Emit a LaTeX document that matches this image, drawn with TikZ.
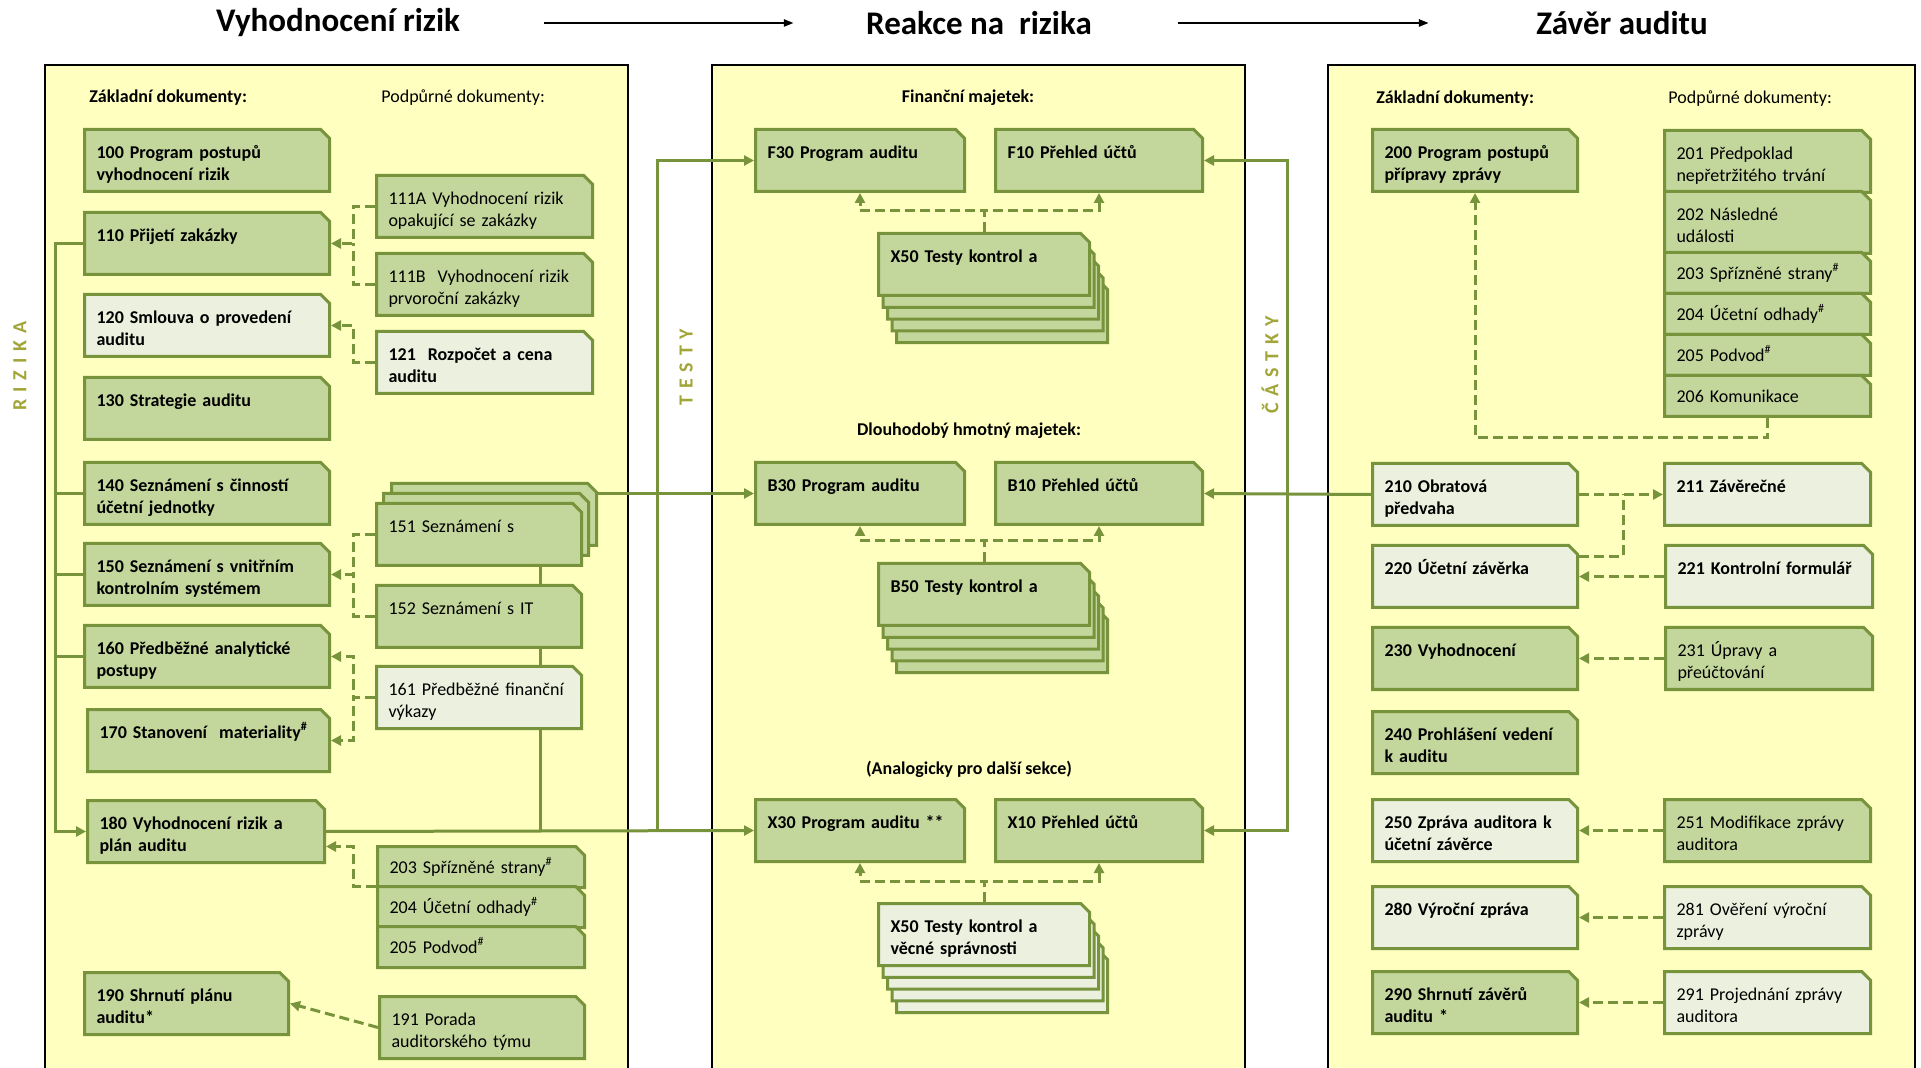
\documentclass[tikz,border=0pt]{standalone}
\usepackage{fontspec}
\setmainfont{Carlito}
\usetikzlibrary{shapes.misc,arrows.meta}

\definecolor{panelfill}{HTML}{FFFFBF}
\definecolor{darkfill}{HTML}{C3D69B}
\definecolor{lightfill}{HTML}{EBF1DE}
\definecolor{boxline}{HTML}{77933C}
\definecolor{sidetext}{HTML}{A2A538}

\tikzset{
    doc/.style={chamfered rectangle, chamfered rectangle corners=north east,
        chamfered rectangle xsep=2.2pt, chamfered rectangle ysep=2.2pt,
        draw=boxline, line width=1.5pt, fill=darkfill, anchor=north west,
        align=left, inner xsep=3.8pt, inner ysep=0pt,
        text height=12.1pt, text depth=14.5pt, font=\fontsize{9}{11}\selectfont},
    pale/.style={fill=lightfill},
    heavy/.style={font=\fontsize{9}{11}\selectfont\bfseries},
    slim/.style={text height=11.1pt, text depth=5pt},
    flow/.style={draw=boxline, line width=1.5pt, >={Triangle[length=5pt,width=5pt]}},
    dashflow/.style={flow, dash pattern=on 5pt off 2.5pt},
    panel/.style={fill=panelfill, draw=black, line width=0.6pt},
    pagetitle/.style={font=\fontsize{16.5}{19}\selectfont\bfseries, inner sep=0pt},
    titlearrow/.style={-{Triangle[length=5pt,width=3.5pt]}, line width=1.2pt},
    colhead/.style={font=\fontsize{9}{11}\selectfont, inner sep=0pt},
    sidelabel/.style={rotate=90, text=sidetext, inner sep=0pt,
        font=\fontsize{10}{12}\selectfont\bfseries,
        execute at begin node={\spaceskip=3.4pt\relax}}
}

\begin{document}
\begin{tikzpicture}[x=0.5pt,y=-0.5pt]
        \useasboundingbox (0,0) rectangle (1921,1068);

        \node[pagetitle] (tvyh) at (338,23) {Vyhodnocení rizik};
        \node[pagetitle] (treak) at (979,23) {Reakce na~ rizika};
        \node[pagetitle] (tzav) at (1622,23) {Závěr auditu};
        \draw[titlearrow, shorten <=42pt, shorten >=36pt] (tvyh) -- (treak);
        \draw[titlearrow, shorten <=43pt, shorten >=53.5pt] (treak) -- (tzav);

        \draw[panel] (45,65) rectangle (628,1075);
        \draw[panel] (712,65) rectangle (1245,1075);
        \draw[panel] (1328,65) rectangle (1915,1075);

        \node[sidelabel] (rizika) at (20,366) {R I Z I K A};
        \node[sidelabel] (testy) at (686,367) {T E S T Y};
        \node[sidelabel] (castky) at (1270,365) {Č Á S T K Y};

        % Vyhodnoceni rizik
        \node[colhead, font=\fontsize{9}{11}\selectfont\bfseries, anchor=west] (zakl1) at (89,98) {Základní dokumenty:};
        \node[colhead, anchor=west] (podp1) at (381,98) {Podpůrné dokumenty:};

        \node[doc,heavy,text width=110.5pt] (b100) at (83,128) {100 Program postupů\\vyhodnocení rizik};
        \node[doc,heavy,text width=110.5pt] (b110) at (83,211) {110 Přijetí zakázky};
        \node[doc,heavy,pale,text width=110.5pt] (b120) at (83,293) {120 Smlouva o provedení\\auditu};
        \node[doc,heavy,text width=110.5pt] (b130) at (83,376) {130 Strategie auditu};
        \node[doc,heavy,text width=110.5pt] (b140) at (83,461) {140 Seznámení s činností\\účetní jednotky};
        \node[doc,heavy,text width=110.5pt] (b150) at (83,542) {150 Seznámení s vnitřním\\kontrolním systémem};
        \node[doc,heavy,text width=110.5pt] (b160) at (83,624) {160 Předběžné analytické\\postupy};
        \node[doc,heavy,text width=109pt] (b170) at (86,708) {170 Stanovení~ materiality\textsuperscript{\#}};
        \node[doc,heavy,text width=106.5pt] (b180) at (86,799) {180 Vyhodnocení rizik a\\plán auditu};
        \node[doc,heavy,text width=90pt] (b190) at (83,971) {190 Shrnutí plánu\\auditu*};

        \node[doc,text width=96pt] (b111a) at (375,174) {111A Vyhodnocení rizik\\opakující se zakázky};
        \node[doc,text width=96pt] (b111b) at (375,252) {111B~ Vyhodnocení rizik\\prvoroční zakázky};
        \node[doc,heavy,pale,text width=96pt] (b121) at (375,330) {121~ Rozpočet a cena\\auditu};
        \node[doc,text width=90.5pt] (b151c) at (390,482) {};
        \node[doc,text width=90.5pt] (b151b) at (382,492) {};
        \node[doc,text width=90.5pt] (b151) at (375,502) {151 Seznámení s};
        \node[doc,text width=90.5pt] (b152) at (375,584) {152 Seznámení s IT};
        \node[doc,pale,text width=90.5pt] (b161) at (375,665) {161 Předběžné finanční\\výkazy};
        \node[doc,slim,text width=91.5pt] (b203a) at (376,845) {203 Spřízněné strany\textsuperscript{\#}};
        \node[doc,slim,text width=91.5pt] (b204a) at (376,885) {204 Účetní odhady\textsuperscript{\#}};
        \node[doc,slim,text width=91.5pt] (b205a) at (376,925) {205 Podvod\textsuperscript{\#}};
        \node[doc,text width=90.5pt] (b191) at (378,995) {191 Porada\\auditorského týmu};

        \coordinate (d1) at (353,0);
        \draw[flow,->] (b110.west) -- ++(-28,0) |- (b180.west);
        \foreach \n in {b140,b150,b160}
            \draw[flow] (\n.west) -- ++(-28,0);
        \draw[dashflow,->] (b111a.west) -| (b110.east -| d1) -- (b110.east);
        \draw[dashflow] (b111b.west) -| (b110.east -| d1);
        \draw[dashflow,->] (b121.west) -| (b120.east -| d1) -- (b120.east);
        \draw[dashflow,->] (b151.west) -| (b150.east -| d1) -- (b150.east);
        \draw[dashflow] (b152.west) -| (b150.east -| d1);
        \draw[dashflow,->] (b161.west) -| (b160.east -| d1) -- (b160.east);
        \draw[dashflow,->] (b161.west) -| (b170.east -| d1) -- (b170.east);
        \draw[dashflow,->] ([yshift=1.5pt]b203a.south west) -| ([yshift=-7.5pt]b180.east -| d1) -- ([yshift=-7.5pt]b180.east);
        \draw[dashflow,->] (b191.west) -- (b190.east);

        % Reakce na rizika
        \node[colhead, font=\fontsize{9}{11}\selectfont\bfseries] (finm) at (968,98) {Finanční majetek:};
        \node[colhead, font=\fontsize{9}{11}\selectfont\bfseries] (dhm) at (969,431) {Dlouhodobý hmotný majetek:};
        \node[colhead, font=\fontsize{9}{11}\selectfont\bfseries] (analog) at (969,769) {(Analogicky pro další sekce)};

        \node[doc,heavy,text width=92.5pt] (f30) at (754,128) {F30 Program auditu};
        \node[doc,heavy,text width=91.5pt] (f10) at (994,128) {F10 Přehled účtů};
        \foreach \i in {4,3,2,1}
            \node[doc,text width=93.5pt] (x50a\i) at (877+4.5*\i,232+11.8*\i) {};
        \node[doc,heavy,text width=93.5pt] (x50a) at (877,232) {X50 Testy kontrol a};

        \node[doc,heavy,text width=92.5pt] (b30) at (754,461) {B30 Program auditu};
        \node[doc,heavy,text width=91.5pt] (b10) at (994,461) {B10 Přehled účtů};
        \foreach \i in {4,3,2,1}
            \node[doc,text width=93.5pt] (b50s\i) at (877+4.5*\i,562+11.8*\i) {};
        \node[doc,heavy,text width=93.5pt] (b50) at (877,562) {B50 Testy kontrol a};

        \node[doc,heavy,text width=92.5pt] (x30) at (754,798) {X30 Program auditu **};
        \node[doc,heavy,text width=91.5pt] (x10) at (994,798) {X10 Přehled účtů};
        \foreach \i in {4,3,2,1}
            \node[doc,pale,text width=93.5pt] (x50b\i) at (877+4.5*\i,902+11.8*\i) {};
        \node[doc,heavy,pale,text width=93.5pt] (x50b) at (877,902) {X50 Testy kontrol a\\věcné správnosti};

        \foreach \s/\a/\b in {x50a/f30/f10, b50/b30/b10, x50b/x30/x10} {
            \draw[dashflow,->] (\s.north) -- ++(0,-21) -| (\a.south);
            \draw[dashflow,->] (\s.north) -- ++(0,-21) -| (\b.south);
        }

        \coordinate (spine) at (540,830);
        \coordinate (riser) at (657,830);
        \draw[flow] (b151.south -| spine) -- (b152.north -| spine);
        \draw[flow] (b152.south -| spine) -- (b161.north -| spine);
        \draw[flow] (b161.south -| spine) -- (spine);
        \draw[flow,->] (b180.east) -- (x30.west);
        \draw[flow,->] (riser) |- (f30.west);
        \draw[flow,->] (b151c.east |- b30.west) -- (b30.west);

        % Zaver auditu
        \node[colhead, font=\fontsize{9}{11}\selectfont\bfseries, anchor=west] (zakl3) at (1376,99) {Základní dokumenty:};
        \node[colhead, anchor=west] (podp3) at (1668,99) {Podpůrné dokumenty:};

        \node[doc,heavy,text width=90.5pt] (b200) at (1371,128) {200 Program postupů\\přípravy zprávy};
        \node[doc,text width=91pt] (b201) at (1663,129) {201 Předpoklad\\nepřetržitého trvání};
        \node[doc,text width=91pt] (b202) at (1663,190) {202 Následné\\události};
        \node[doc,slim,text width=91pt] (b203) at (1663,251) {203 Spřízněné strany\textsuperscript{\#}};
        \node[doc,slim,text width=91pt] (b204) at (1663,292) {204 Účetní odhady\textsuperscript{\#}};
        \node[doc,slim,text width=91pt] (b205) at (1663,333) {205 Podvod\textsuperscript{\#}};
        \node[doc,slim,text width=91pt] (b206) at (1663,374) {206 Komunikace};

        \node[doc,heavy,pale,text width=90.5pt] (b210) at (1371,462) {210 Obratová\\předvaha};
        \node[doc,heavy,pale,text width=91pt] (b211) at (1663,462) {211 Závěrečné};
        \node[doc,heavy,pale,text width=90.5pt] (b220) at (1371,544) {220 Účetní závěrka};
        \node[doc,heavy,pale,text width=91.5pt] (b221) at (1664,544) {221 Kontrolní formulář};
        \node[doc,heavy,text width=90.5pt] (b230) at (1371,626) {230 Vyhodnocení};
        \node[doc,text width=91.5pt] (b231) at (1664,626) {231 Úpravy a\\přeúčtování};
        \node[doc,heavy,text width=90.5pt] (b240) at (1371,710) {240 Prohlášení vedení\\k auditu};
        \node[doc,heavy,pale,text width=90.5pt] (b250) at (1371,798) {250 Zpráva auditora k\\účetní závěrce};
        \node[doc,text width=91pt] (b251) at (1663,798) {251 Modifikace zprávy\\auditora};
        \node[doc,heavy,pale,text width=90.5pt] (b280) at (1371,885) {280 Výroční zpráva};
        \node[doc,pale,text width=91pt] (b281) at (1663,885) {281 Ověření výroční\\zprávy};
        \node[doc,heavy,text width=90.5pt] (b290) at (1371,970) {290 Shrnutí závěrů\\auditu *};
        \node[doc,pale,text width=91pt] (b291) at (1663,970) {291 Projednání zprávy\\auditora};

        \coordinate (j211) at (1623,0);
        \draw[dashflow,->] (b206.south) -- ++(0,20) -| (b200.south);
        \draw[dashflow,->] (b210.east) -- (b211.west);
        \draw[dashflow] ([yshift=10pt]b220.east) -| (b211.west -| j211);
        \foreach \s/\t in {b221/b220, b231/b230, b251/b250, b281/b280, b291/b290}
            \draw[dashflow,->] (\s.west) -- (\t.east);

        \coordinate (cbus) at (1287,492);
        \draw[flow,->] (b210.west) -- (b10.east);
        \draw[flow,->] (cbus) |- (f10.east);
        \draw[flow,->] (cbus) |- (x10.east);
\end{tikzpicture}
\end{document}
